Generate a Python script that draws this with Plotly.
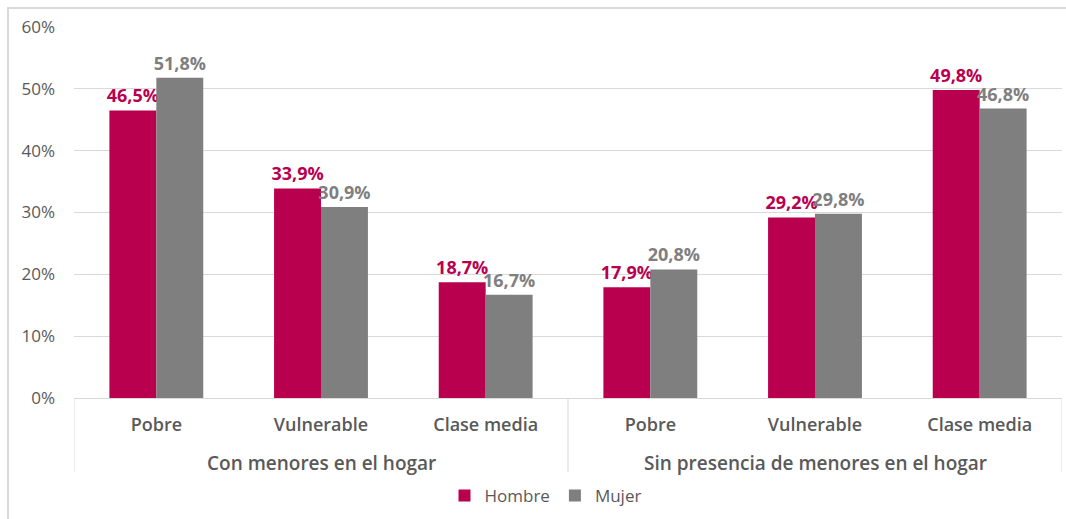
import plotly.graph_objects as go

groups = ["Con menores en el hogar"] * 3 + ["Sin presencia de menores en el hogar"] * 3
classes = ["Pobre", "Vulnerable", "Clase media", "Pobre", "Vulnerable", "Clase media"]
hombre = [46.5, 33.9, 18.7, 17.9, 29.2, 49.8]
mujer = [51.8, 30.9, 16.7, 20.8, 29.8, 46.8]
y_ticks = [0, 10, 20, 30, 40, 50, 60]
y_tick_labels = ["0%", "10%", "20%", "30%", "40%", "50%", "60%"]
group_names = ["Con menores en el hogar", "Sin presencia de menores en el hogar"]

HOMBRE_C = "#B9004F"
MUJER_C = "#7F7F7F"
TXT = "#595959"
GRID = "#D9D9D9"
FONT = "Open Sans"

keys = [f"{g}|{c}" for g, c in zip(groups, classes)]

fig = go.Figure()
fig.add_trace(go.Bar(
    x=keys, y=hombre, name="Hombre",
    marker=dict(color=HOMBRE_C, line=dict(width=0)),
    texttemplate="%{y:.1f}%", textposition="outside", constraintext="none",
    textfont=dict(family=FONT, size=18, color=HOMBRE_C, weight="bold"),
    cliponaxis=False,
))
fig.add_trace(go.Bar(
    x=keys, y=mujer, name="Mujer",
    marker=dict(color=MUJER_C, line=dict(width=0)),
    texttemplate="%{y:.1f}%", textposition="outside", constraintext="none",
    textfont=dict(family=FONT, size=18, color=MUJER_C, weight="bold"),
    cliponaxis=False,
))

# group labels centred under each group, dividers at group boundaries
annotations = []
for gi, gname in enumerate(group_names):
    idx = [i for i, g in enumerate(groups) if g == gname]
    annotations.append(dict(
        x=(idx[0] + idx[-1]) / 2, xref="x", y=-0.175, yref="paper",
        text=gname, showarrow=False, xanchor="center", yanchor="middle",
        font=dict(family=FONT, size=19, color=TXT, weight=600),
    ))
boundaries = [-0.5] + [i + 0.5 for i in range(len(groups) - 1) if groups[i] != groups[i + 1]] + [len(groups) - 0.5]
shapes = [dict(type="line", xref="x", yref="paper", x0=b, x1=b, y0=0, y1=-0.2,
               line=dict(color=GRID, width=1)) for b in boundaries]
shapes.append(dict(type="rect", xref="paper", yref="paper",
                   x0=-0.0668, x1=1.02, y0=-0.35, y1=1.0512,
                   line=dict(color=GRID, width=2), layer="below"))

fig.update_layout(
    width=1066, height=519,
    margin=dict(l=74, r=4, t=27, b=121),
    paper_bgcolor="white", plot_bgcolor="white",
    barmode="group", bargap=0.43, bargroupgap=0,
    separators=",.",
    font=dict(family=FONT, color=TXT, size=16),
    legend=dict(orientation="h", x=0.375, xanchor="left", y=-0.264, yanchor="middle",
                font=dict(family=FONT, size=17, color=TXT), traceorder="normal",
                itemwidth=30),
    annotations=annotations,
    shapes=shapes,
)
fig.update_xaxes(
    type="category", tickmode="array", tickvals=keys, ticktext=classes,
    range=[-0.5, len(keys) - 0.5],
    showline=True, linecolor=GRID, linewidth=1,
    ticks="", tickfont=dict(family=FONT, size=18, color=TXT, weight=600),
    ticklabelstandoff=10,
    showgrid=False,
)
fig.update_yaxes(
    range=[0, 60], tickmode="array", tickvals=y_ticks, ticktext=y_tick_labels,
    showgrid=True, gridcolor=GRID, gridwidth=1,
    zeroline=False, showline=False,
    tickfont=dict(family=FONT, size=17, color=TXT),
    ticklabelstandoff=18,
)

fig.write_html("out.html")
